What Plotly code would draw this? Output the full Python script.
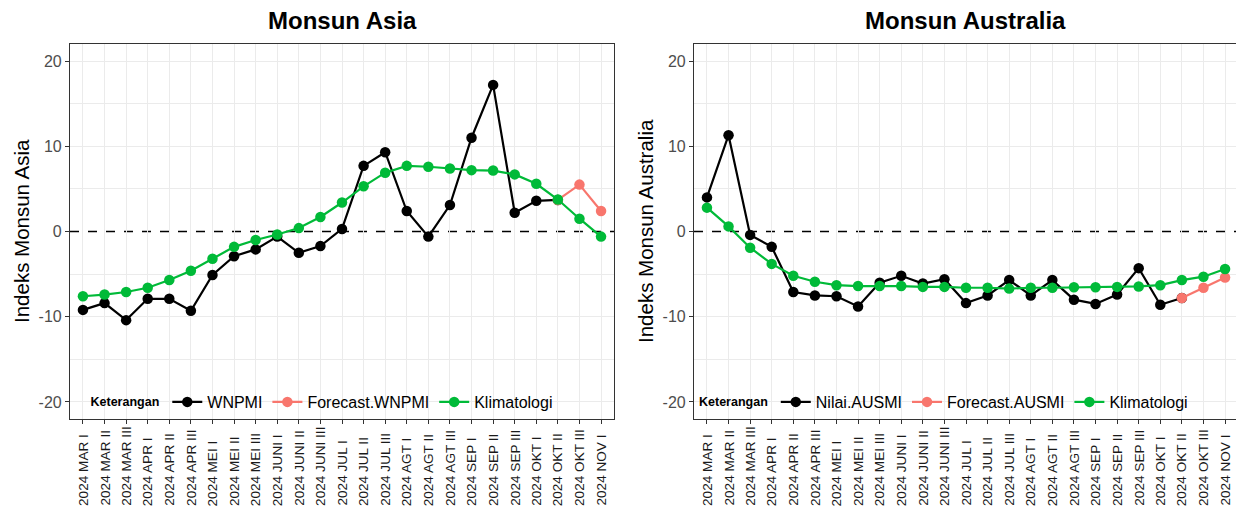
import plotly.graph_objects as go

categories = ["2024 MAR I", "2024 MAR II", "2024 MAR III", "2024 APR I", "2024 APR II", "2024 APR III",
              "2024 MEI I", "2024 MEI II", "2024 MEI III", "2024 JUNI I", "2024 JUNI II", "2024 JUNI III",
              "2024 JUL I", "2024 JUL II", "2024 JUL III", "2024 AGT I", "2024 AGT II", "2024 AGT III",
              "2024 SEP I", "2024 SEP II", "2024 SEP III", "2024 OKT I", "2024 OKT II", "2024 OKT III",
              "2024 NOV I"]

wnpmi = [-9.2, -8.4, -10.4, -7.9, -7.9, -9.3, -5.1, -2.9, -2.1, -0.6, -2.5, -1.7,
         0.3, 7.7, 9.3, 2.4, -0.6, 3.1, 11.0, 17.2, 2.2, 3.6, 3.7, None, None]
forecast_wnpmi = [None] * 22 + [3.7, 5.5, 2.4]
klim_asia = [-7.6, -7.4, -7.1, -6.6, -5.7, -4.6, -3.2, -1.8, -1.0, -0.35, 0.4, 1.7,
             3.4, 5.3, 6.9, 7.7, 7.6, 7.4, 7.2, 7.15, 6.7, 5.6, 3.75, 1.5, -0.6]

ausmi = [4.0, 11.3, -0.4, -1.8, -7.1, -7.5, -7.6, -8.8, -6.0, -5.2, -6.1, -5.6,
         -8.4, -7.5, -5.7, -7.5, -5.7, -8.0, -8.5, -7.4, -4.3, -8.6, -7.8, None, None]
forecast_ausmi = [None] * 22 + [-7.8, -6.6, -5.4]
klim_aus = [2.8, 0.6, -1.9, -3.8, -5.2, -5.9, -6.3, -6.4, -6.4, -6.4, -6.5, -6.5,
            -6.6, -6.6, -6.7, -6.6, -6.6, -6.55, -6.55, -6.5, -6.45, -6.3, -5.7, -5.3, -4.4]

ytick_vals = [-20, -10, 0, 10, 20]
ytick_text = ["-20", "-10", "0", "10", "20"]
ygrid_vals = [-20, -15, -10, -5, 5, 10, 15, 20]

BLACK = "#000000"
RED = "#F8766D"
GREEN = "#00BA38"
FONT = "Liberation Sans, Arial, sans-serif"

# page body has an 8px margin; figure sized so it fits the window
OFF = 8
FW, FH = 1236, 506


def px(xp):
    return (xp - OFF) / FW


def py(yp):
    return 1 - (yp - OFF) / FH


fig = go.Figure()


def add_series(y, name, color, xa, ya, legend):
    fig.add_trace(go.Scatter(
        x=categories, y=y, name=name, mode="lines+markers",
        line=dict(color=color, width=2.2),
        marker=dict(color=color, size=10.5),
        xaxis=xa, yaxis=ya, legend=legend, connectgaps=False,
    ))


add_series(wnpmi, "WNPMI", BLACK, "x", "y", "legend")
add_series(forecast_wnpmi, "Forecast.WNPMI", RED, "x", "y", "legend")
add_series(klim_asia, "Klimatologi", GREEN, "x", "y", "legend")

add_series(ausmi, "Nilai.AUSMI", BLACK, "x2", "y2", "legend2")
add_series(forecast_ausmi, "Forecast.AUSMI", RED, "x2", "y2", "legend2")
add_series(klim_aus, "Klimatologi", GREEN, "x2", "y2", "legend2")

left_dom = [px(70), px(614)]
right_dom = [px(694), px(1238)]
y_dom = [py(419), py(44)]

xaxis_common = dict(
    type="category", range=[-0.6, 24.6], showgrid=True, gridcolor="#EBEBEB", gridwidth=1.2,
    showline=True, linecolor="#333333", linewidth=1.2, mirror=True,
    ticks="outside", ticklen=4, tickcolor="#333333", showticklabels=False, zeroline=False,
)
yaxis_common = dict(
    range=[-22, 22], tickvals=ytick_vals, ticktext=ytick_text,
    showgrid=False,
    minor=dict(tickvals=ygrid_vals, showgrid=True, gridcolor="#EBEBEB", gridwidth=1.1, ticks=""),
    showline=True, linecolor="#333333", linewidth=1.2, mirror=True,
    ticks="outside", ticklen=4, tickcolor="#333333",
    tickfont=dict(family=FONT, size=16, color="#4d4d4d"), zeroline=False,
)

legend_common = dict(
    orientation="h", yanchor="middle", xanchor="center", bgcolor="rgba(0,0,0,0)",
    font=dict(family=FONT, size=16, color="#000000"),
    title=dict(text='<span style="font-size:12.5px"><b>Keterangan</b></span>', side="left",
               font=dict(family=FONT, size=16, color="#000000")),
    itemwidth=30, tracegroupgap=0,
)

title_font = dict(family=FONT, size=24, color="black")
ytitle_font = dict(family=FONT, size=20.5, color="black")
xlabel_font = dict(family=FONT, size=13.6, color="#1a1a1a")

annotations = [
    dict(text="<b>Monsun Asia</b>", x=px(342), y=py(21), xref="paper", yref="paper",
         showarrow=False, font=title_font, xanchor="center", yanchor="middle"),
    dict(text="<b>Monsun Australia</b>", x=px(966), y=py(21), xref="paper", yref="paper",
         showarrow=False, font=title_font, xanchor="center", yanchor="middle"),
    dict(text="Indeks Monsun Asia", x=px(21), y=py(231), xref="paper", yref="paper",
         showarrow=False, textangle=-90, font=ytitle_font, xanchor="center", yanchor="middle"),
    dict(text="Indeks Monsun Australia", x=px(645), y=py(231), xref="paper", yref="paper",
         showarrow=False, textangle=-90, font=ytitle_font, xanchor="center", yanchor="middle"),
]
# category tick labels, rotated and bottom-aligned like the reference
for xref in ("x", "x2"):
    for cat in categories:
        annotations.append(dict(
            text=cat, x=cat, xref=xref, y=py(507), yref="paper", showarrow=False,
            textangle=-90, font=xlabel_font, xanchor="center", yanchor="bottom", borderpad=0,
        ))

fig.update_layout(
    width=FW, height=FH, margin=dict(l=0, r=0, t=0, b=0),
    paper_bgcolor="white", plot_bgcolor="white",
    showlegend=True,
    xaxis=dict(domain=left_dom, anchor="y", **xaxis_common),
    yaxis=dict(domain=y_dom, anchor="x", **yaxis_common),
    xaxis2=dict(domain=right_dom, anchor="y2", **xaxis_common),
    yaxis2=dict(domain=y_dom, anchor="x2", **yaxis_common),
    legend=dict(x=px(323), y=py(402), **legend_common),
    legend2=dict(x=px(945), y=py(402), **legend_common),
    shapes=[
        dict(type="line", xref="x domain", yref="y", x0=0, x1=1, y0=0, y1=0,
             line=dict(color="black", width=1.4, dash="dash"), layer="below"),
        dict(type="line", xref="x2 domain", yref="y2", x0=0, x1=1, y0=0, y1=0,
             line=dict(color="black", width=1.4, dash="dash"), layer="below"),
    ],
    annotations=annotations,
)

fig.write_html("out.html")
